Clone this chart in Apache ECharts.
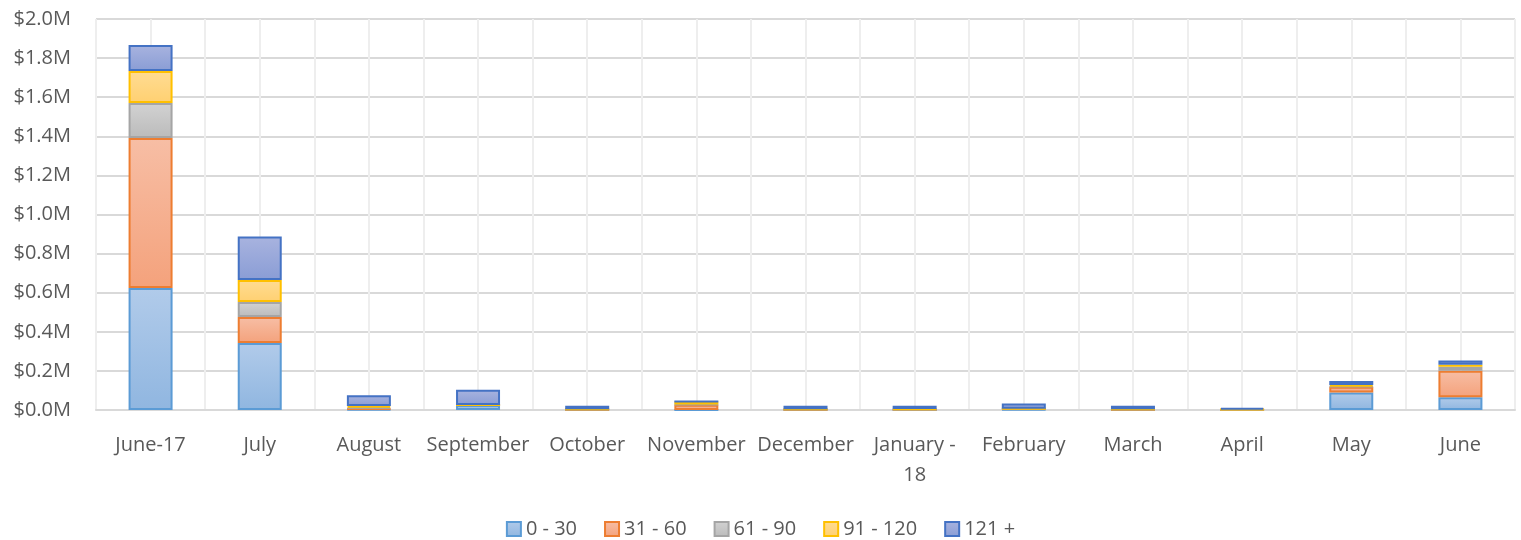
<!DOCTYPE html>
<html>
<head>
<meta charset="utf-8">
<script src="https://cdn.jsdelivr.net/npm/echarts@6/dist/echarts.min.js"></script>
<style>
  html, body { margin: 0; padding: 0; background: #fff; }
  #container { width: 1521px; height: 540px; }
</style>
</head>
<body>
<div id="container"></div>
<script>
var dom     = document.getElementById("container");
var myChart = echarts.init(dom);

// months (category axis)
var months = ['June-17', 'July', 'August', 'September', 'October', 'November', 'December',
              'January -\n18', 'February', 'March', 'April', 'May', 'June'];

// aging buckets, values in dollars
var bucketNames = ['0 - 30', '31 - 60', '61 - 90', '91 - 120', '121 +'];
var days0to30   = [624000, 343000, 3000, 26000, 1000, 0, 1000, 1000, 2000, 1000, 1000, 89000, 65000];
var days31to60  = [767000, 133000, 3000, 0, 0, 27000, 0, 0, 5000, 0, 0, 30000, 136000];
var days61to90  = [179000, 76000, 8000, 0, 3000, 1000, 3000, 1000, 0, 3000, 1000, 2000, 20000];
var days91to120 = [164000, 113000, 6000, 0, 0, 15000, 0, 3000, 0, 0, 0, 7000, 11000];
var days121plus = [133000, 222000, 56000, 77000, 18000, 0, 18000, 17000, 26000, 18000, 9000, 20000, 21000];

// y axis ticks
var yMax = 2000000;
var yStep = 200000;

var seriesValues = [days0to30, days31to60, days61to90, days91to120, days121plus];
var borderColors = ['#5B9BD5', '#ED7D31', '#A5A5A5', '#FFC000', '#4472C4'];
var fillTop      = ['#b1cbea', '#f7bea5', '#d2d2d2', '#ffdc93', '#a8b3df'];
var fillBottom   = ['#90b6e0', '#f4a27c', '#bbbbbb', '#ffd071', '#8a9dd5'];

function grad(i) {
    return new echarts.graphic.LinearGradient(0, 0, 0, 1, [
        {offset: 0, color: fillTop[i]},
        {offset: 1, color: fillBottom[i]}
    ]);
}

var series = [];
for (var i = 0; i < bucketNames.length; i++) {
    series.push({
        name: bucketNames[i],
        type: 'bar',
        stack: 'total',
        xAxisIndex: 0,
        barWidth: 44,
        data: seriesValues[i],
        itemStyle: {
            color: grad(i),
            borderColor: borderColors[i],
            borderWidth: 2
        }
    });
}

var fontName = 'Open Sans';

var option = {
    animation: false,
    backgroundColor: '#fff',
    textStyle: {fontFamily: fontName, fontSize: 20, color: '#595959'},
    grid: {
        left: 96,
        right: 6,
        top: 19,
        bottom: 130
    },
    legend: {
        top: 514,
        left: 'center',
        icon: 'rect',
        itemWidth: 14,
        itemHeight: 14,
        itemGap: 27,
        textStyle: {fontFamily: fontName, fontSize: 20, color: '#595959'},
        data: bucketNames
    },
    xAxis: [
        {
            type: 'category',
            data: months,
            axisLine: {lineStyle: {color: '#d9d9d9', width: 2}},
            axisTick: {show: false},
            splitLine: {show: false},
            axisLabel: {
                color: '#595959',
                fontFamily: fontName,
                fontSize: 20,
                margin: 20,
                lineHeight: 30,
                interval: 0
            }
        },
        {
            // half-category vertical grid lines
            type: 'value',
            min: 0,
            max: months.length * 2,
            interval: 1,
            position: 'bottom',
            axisLine: {show: false},
            axisTick: {show: false},
            axisLabel: {show: false},
            splitLine: {show: true, lineStyle: {color: '#eeeeee', width: 2}}
        }
    ],
    yAxis: {
        type: 'value',
        min: 0,
        max: yMax,
        interval: yStep,
        axisLine: {show: false},
        axisTick: {show: false},
        splitLine: {lineStyle: {color: '#d9d9d9', width: 2}},
        axisLabel: {
            color: '#595959',
            fontFamily: fontName,
            fontSize: 20,
            margin: 25,
            formatter: function (v) {
                return '$' + (v / 1000000).toFixed(1) + 'M';
            }
        }
    },
    series: series
};

myChart.setOption(option);
</script>
</body>
</html>
